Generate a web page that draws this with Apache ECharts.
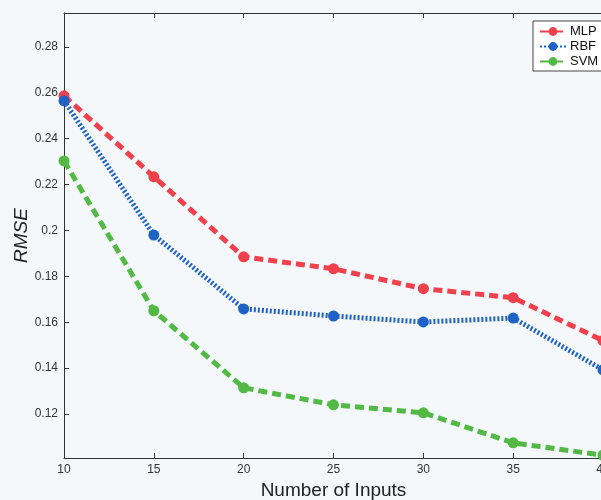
<!DOCTYPE html>
<html><head><meta charset="utf-8">
<script src="https://cdn.jsdelivr.net/npm/echarts@6/dist/echarts.min.js"></script>
<style>html,body{margin:0;padding:0;background:#f4f8fb;}#c{width:601px;height:500px;}</style>
</head><body><div id="c"></div>
<script>
const inputs = [10, 15, 20, 25, 30, 35, 40];
const mlp = [0.2587, 0.2234, 0.1885, 0.1833, 0.1746, 0.1707, 0.1520];
const rbf = [0.2565, 0.1980, 0.1658, 0.1627, 0.1601, 0.1618, 0.1392];
const svm = [0.2303, 0.1650, 0.1314, 0.1240, 0.1205, 0.1074, 0.1020];
const yTicks = [0.12, 0.14, 0.16, 0.18, 0.2, 0.22, 0.24, 0.26, 0.28];
const xTicks = [10, 15, 20, 25, 30, 35, 40];
const names = ['MLP', 'RBF', 'SVM'];

const font = 'Liberation Sans, Arial, sans-serif';
const pairs = a => inputs.map((x, i) => [x, a[i]]);
function mk(name, data, color, type, width) {
  return {
    name, type: 'line', data: pairs(data), symbol: 'circle', symbolSize: 11,
    itemStyle: { color },
    lineStyle: { color, width, type },
    emphasis: { disabled: true }, z: 3
  };
}
const chart = echarts.init(document.getElementById('c'), null, { renderer: 'canvas' });
chart.setOption({
  backgroundColor: '#f4f8fb',
  animation: false,
  grid: { left: 64, top: 13, width: 539, height: 445, containLabel: false, outerBoundsMode: 'none', show: false },
  legend: {
    data: names, left: 533, top: 21, orient: 'vertical', itemGap: 2,
    itemWidth: 26, itemHeight: 11, padding: [4, 8, 3, 6],
    borderColor: '#444', borderWidth: 1, backgroundColor: '#ffffff',
    textStyle: { fontFamily: font, fontSize: 13, color: '#111', padding: [0, 0, 0, -1] }
  },
  xAxis: [{
    type: 'value', min: 10, max: 40, interval: 5, position: 'bottom',
    name: 'Number of Inputs', nameLocation: 'middle', nameGap: 22,
    nameTextStyle: { fontFamily: font, fontSize: 19, color: '#222' },
    axisLine: { lineStyle: { color: '#333', width: 1 } },
    axisTick: { inside: true, length: 5, lineStyle: { color: '#333' } },
    axisLabel: { fontFamily: font, fontSize: 12, color: '#333', margin: 6, customValues: xTicks },
    splitLine: { show: false }
  }, {
    type: 'value', min: 10, max: 40, interval: 5, position: 'top',
    axisLine: { lineStyle: { color: '#333', width: 1 } },
    axisTick: { inside: true, length: 5, lineStyle: { color: '#333' } },
    axisLabel: { show: false }, splitLine: { show: false }
  }],
  yAxis: {
    type: 'value', min: 0.1008, max: 0.2948,
    name: 'RMSE', nameLocation: 'middle', nameGap: 33, nameRotate: 90, nameMoveOverlap: false,
    nameTextStyle: { fontFamily: font, fontSize: 19, fontStyle: 'italic', color: '#222' },
    axisLine: { show: true, lineStyle: { color: '#333', width: 1 } },
    axisTick: { inside: true, length: 5, customValues: yTicks, lineStyle: { color: '#333' } },
    axisLabel: { fontFamily: font, fontSize: 12, color: '#333', margin: 6, customValues: yTicks,
      formatter: v => String(Math.round(v * 100) / 100) },
    splitLine: { show: false }
  },
  series: [
    mk('MLP', mlp, '#f0404c', [9, 5], 5),
    mk('RBF', rbf, '#1f62c6', [2, 2], 5),
    mk('SVM', svm, '#52b944', [9, 5], 5)
  ]
});
</script></body></html>
